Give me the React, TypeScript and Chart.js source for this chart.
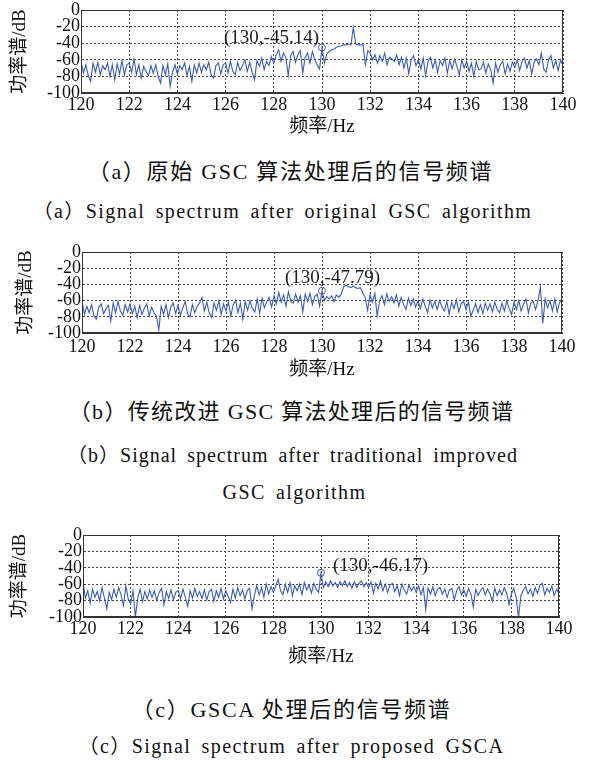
import React, { useEffect, useRef } from "react";
import { Chart, registerables } from "chart.js";

Chart.register(...registerables);

// ---------------- data ----------------
const FREQ_START = 120; // Hz
const FREQ_STEP = 0.1; // Hz per sample
const X_MIN = 120;
const X_MAX = 140;
const X_STEP = 2;
const Y_MIN = -100;
const Y_MAX = 0;
const Y_STEP = 20;
const X_TITLE = "频率/Hz";
const Y_TITLE = "功率谱/dB";

// (a) original GSC
const SERIES_A = [
  -62, -76, -66, -79, -86, -64, -75, -63, -78, -67,
  -72, -64, -80, -66, -84, -65, -77, -61, -78, -66,
  -64, -75, -59, -78, -66, -82, -68, -74, -79, -67,
  -76, -66, -80, -88, -67, -78, -65, -92, -75, -66,
  -77, -67, -72, -64, -79, -68, -86, -66, -76, -64,
  -75, -66, -72, -63, -78, -82, -67, -64, -77, -66,
  -64, -76, -62, -74, -78, -63, -73, -67, -60, -74,
  -63, -75, -84, -61, -68, -58, -72, -62, -67, -56,
  -64, -54, -48, -62, -52, -57, -79, -55, -50, -63,
  -54, -49, -76, -57, -52, -64, -50, -60, -66, -71,
  -45.14, -64, -53, -50, -48, -47, -45, -44, -43, -42,
  -42, -41, -42, -21, -41, -42, -42, -42, -66, -49,
  -52, -60, -54, -64, -55, -62, -52, -66, -57, -59,
  -62, -54, -66, -57, -70, -58, -77, -60, -55, -67,
  -60, -71, -58, -79, -62, -57, -70, -60, -75, -61,
  -67, -58, -76, -61, -71, -59, -68, -78, -60, -70,
  -62, -74, -64, -80, -62, -72, -71, -63, -76, -65,
  -72, -88, -64, -75, -66, -62, -77, -65, -74, -63,
  -69, -60, -73, -62, -58, -70, -61, -77, -63, -59,
  -66, -52, -71, -75, -60, -55, -70, -61, -73, -60,
  -67,
];

// (b) traditional improved GSC
const SERIES_B = [
  -61, -77, -67, -75, -65, -79, -83, -68, -64, -76,
  -70, -66, -85, -63, -75, -61, -73, -78, -65, -74,
  -64, -76, -67, -81, -66, -77, -69, -64, -79, -68,
  -75, -79, -96, -67, -77, -65, -81, -68, -63, -76,
  -66, -78, -69, -61, -76, -80, -65, -75, -67, -63,
  -56, -73, -62, -75, -81, -63, -72, -60, -77, -64,
  -73, -62, -79, -65, -60, -75, -63, -83, -61, -72,
  -60, -70, -74, -58, -76, -57, -69, -61, -56, -68,
  -54, -64, -50, -62, -53, -67, -49, -61, -63, -52,
  -62, -54, -74, -52, -61, -51, -65, -55, -52, -67,
  -47.79, -60, -55, -58, -54, -61, -53, -56, -52, -43,
  -41, -43, -44, -42, -44, -45, -44, -51, -56, -72,
  -53, -62, -51, -79, -60, -54, -65, -52, -61, -55,
  -63, -53, -67, -56, -65, -71, -57, -66, -58, -68,
  -60, -70, -58, -67, -75, -59, -69, -61, -71, -60,
  -68, -73, -61, -77, -62, -70, -59, -74, -64, -61,
  -71, -62, -79, -72, -64, -75, -65, -76, -63, -72,
  -64, -74, -62, -71, -75, -63, -73, -60, -70, -77,
  -62, -71, -60, -73, -64, -58, -75, -63, -61, -71,
  -60, -43, -88, -58, -69, -60, -73, -58, -74, -62,
  -60,
];

// (c) proposed GSCA
const SERIES_C = [
  -58, -77, -68, -83, -66, -76, -69, -80, -64, -77,
  -90, -70, -79, -66, -76, -64, -73, -86, -62, -78,
  -84, -68, -100, -77, -66, -81, -69, -78, -67, -76,
  -68, -80, -70, -65, -85, -69, -77, -67, -79, -70,
  -68, -78, -66, -76, -87, -68, -77, -65, -75, -69,
  -77, -67, -79, -69, -66, -81, -68, -76, -65, -78,
  -68, -75, -82, -66, -77, -64, -74, -67, -78, -68,
  -65, -90, -74, -62, -73, -64, -76, -60, -72, -63,
  -70, -62, -54, -68, -73, -60, -70, -58, -74, -62,
  -68, -60, -73, -58, -67, -61, -71, -59, -66, -70,
  -46.17, -64, -57, -63, -56, -62, -58, -64, -57, -62,
  -56, -63, -58, -65, -57, -64, -59, -56, -63, -58,
  -64, -57, -71, -59, -66, -56, -68, -60, -70, -61,
  -59, -69, -62, -74, -60, -67, -72, -61, -68, -63,
  -70, -62, -73, -64, -91, -65, -72, -63, -74, -66,
  -64, -72, -66, -76, -67, -65, -79, -68, -63, -73,
  -67, -75, -65, -72, -88, -66, -74, -68, -64, -73,
  -66, -72, -81, -65, -74, -67, -73, -64, -71, -85,
  -72, -65, -76, -100, -74, -67, -63, -72, -66, -75,
  -64, -71, -61, -59, -73, -65, -70, -62, -74, -66,
  -72,
];

const SERIES = [SERIES_A, SERIES_B, SERIES_C];
const MARKER_FREQ = 130;
const MARKER_DB = [-45.14, -47.79, -46.17];

const CAPTION_TEXTS = [
  "（a）原始 GSC 算法处理后的信号频谱",
  "（a）Signal spectrum after original GSC algorithm",
  "（b）传统改进 GSC 算法处理后的信号频谱",
  "（b）Signal spectrum after traditional improved",
  "GSC algorithm",
  "（c）GSCA 处理后的信号频谱",
  "（c）Signal spectrum after proposed GSCA",
];

// ---------------- layout / style ----------------
const BLUE = "#3a5bb5";
const FONT = "'Liberation Serif', 'Noto Sans CJK SC', serif";
const CJK_FONT = "'Liberation Serif', 'Noto Sans CJK SC', serif";

const PANELS = [
  { top: -10, height: 148, left: 81, rightPad: 26, xh: 45, yTitlePad: 9, xTickPad: 1, align: "right", dx: -3, dy: -9 },
  { top: 232, height: 149, left: 82, rightPad: 27, xh: 48, yTitlePad: 15, xTickPad: 3, align: "left", dx: -37, dy: -13 },
  { top: 515, height: 153, left: 83, rightPad: 30, xh: 51, yTitlePad: 9, xTickPad: 1, align: "left", dx: 12, dy: -7 },
];

const CAPTION_STYLE = [
  { y: 172, zh: true, dx: -4, ls: 1.7 },
  { y: 211, zh: false, dx: -12, ls: 1.4 },
  { y: 412, zh: true, dx: -3, ls: 1.3 },
  { y: 455, zh: false, dx: -2, ls: 1.0 },
  { y: 492, zh: false, dx: 0, ls: 1.4 },
  { y: 710, zh: true, dx: -3, ls: 1.7 },
  { y: 746, zh: false, dx: -3, ls: 1.4 },
];

const framePlugin = {
  id: "frame",
  afterDraw(chart: any) {
    const { ctx, chartArea } = chart;
    const l = Math.round(chartArea.left) + 0.5;
    const t = Math.round(chartArea.top) + 0.5;
    const r = Math.round(chartArea.right) - 0.5;
    const b = Math.round(chartArea.bottom) - 0.5;
    ctx.save();
    ctx.strokeStyle = "#333";
    ctx.lineWidth = 1;
    ctx.setLineDash([]);
    ctx.strokeRect(l, t, r - l, b - t);
    ctx.restore();
  },
};

function Panel({ idx }: { idx: number }) {
  const ref = useRef<HTMLCanvasElement | null>(null);
  const cfg = PANELS[idx];
  useEffect(() => {
    if (!ref.current) return;
    const values = SERIES[idx];
    const markerDb = MARKER_DB[idx];
    const labelPlugin = {
      id: "markerLabel",
      afterDraw(chart: any) {
        const pt = chart.getDatasetMeta(1).data[0];
        if (!pt) return;
        const ctx = chart.ctx;
        ctx.save();
        ctx.font = `19px ${FONT}`;
        ctx.fillStyle = "#1a1a1a";
        ctx.textAlign = cfg.align;
        ctx.textBaseline = "middle";
        ctx.fillText(`(${MARKER_FREQ},${markerDb})`, pt.x + cfg.dx, pt.y + cfg.dy);
        ctx.restore();
      },
    };
    const chart = new Chart(ref.current, {
      type: "line",
      data: {
        datasets: [
          {
            data: values.map((v, i) => ({ x: FREQ_START + i * FREQ_STEP, y: v })),
            borderColor: BLUE,
            borderWidth: 1.1,
            pointRadius: 0,
            tension: 0,
            fill: false,
          },
          {
            data: [{ x: MARKER_FREQ, y: markerDb }],
            showLine: false,
            pointRadius: 3.5,
            pointStyle: "circle",
            pointBorderColor: BLUE,
            pointBackgroundColor: "rgba(0,0,0,0)",
            pointBorderWidth: 1,
          },
        ],
      },
      options: {
        animation: false,
        responsive: false,
        maintainAspectRatio: false,
        layout: { padding: { top: 20, right: cfg.rightPad, bottom: 0, left: 0 } },
        plugins: { legend: { display: false }, tooltip: { enabled: false } },
        scales: {
          x: {
            type: "linear",
            min: X_MIN,
            max: X_MAX,
            afterFit: (s: any) => {
              s.height = cfg.xh;
            },
            ticks: {
              stepSize: X_STEP,
              autoSkip: false,
              maxRotation: 0,
              padding: cfg.xTickPad,
              color: "#111",
              font: { family: FONT, size: 18 },
            },
            grid: { color: "#444", lineWidth: 1, drawTicks: false },
            border: { display: true, color: "#333", dash: [2, 2] },
            title: {
              display: true,
              text: X_TITLE,
              color: "#111",
              font: { family: CJK_FONT, size: 19 },
              padding: { top: 0, bottom: 0 },
            },
          },
          y: {
            min: Y_MIN,
            max: Y_MAX,
            afterFit: (s: any) => {
              s.width = cfg.left;
            },
            ticks: {
              stepSize: Y_STEP,
              autoSkip: false,
              padding: 1,
              color: "#111",
              font: { family: FONT, size: 18 },
            },
            grid: { color: "#444", lineWidth: 1, drawTicks: false },
            border: { display: true, color: "#333", dash: [2, 2] },
            title: {
              display: true,
              text: Y_TITLE,
              color: "#111",
              font: { family: CJK_FONT, size: 19 },
              padding: { top: cfg.yTitlePad, bottom: 0 },
            },
          },
        },
      },
      plugins: [framePlugin, labelPlugin],
    } as any);
    return () => chart.destroy();
  }, [idx]);
  return (
    <canvas
      ref={ref}
      width={589}
      height={cfg.height}
      style={{ position: "absolute", left: 0, top: cfg.top, width: 589, height: cfg.height }}
    />
  );
}

export default function App() {
  return (
    <div style={{ position: "absolute", left: 0, top: 0, width: 589, height: 761, background: "#fff", overflow: "hidden" }}>
      {PANELS.map((_, i) => (
        <Panel key={i} idx={i} />
      ))}
      {CAPTION_TEXTS.map((t, i) => {
        const st = CAPTION_STYLE[i];
        return (
          <div
            key={i}
            style={{
              position: "absolute",
              left: st.dx,
              width: 589,
              top: st.y - 14,
              height: 28,
              lineHeight: "28px",
              textAlign: "center",
              whiteSpace: "nowrap",
              color: "#111",
              fontFamily: st.zh ? CJK_FONT : FONT,
              fontSize: st.zh ? 22 : 20,
              letterSpacing: `${st.ls}px`,
              wordSpacing: st.zh ? "0px" : "4px",
            }}
          >
            {t}
          </div>
        );
      })}
    </div>
  );
}
